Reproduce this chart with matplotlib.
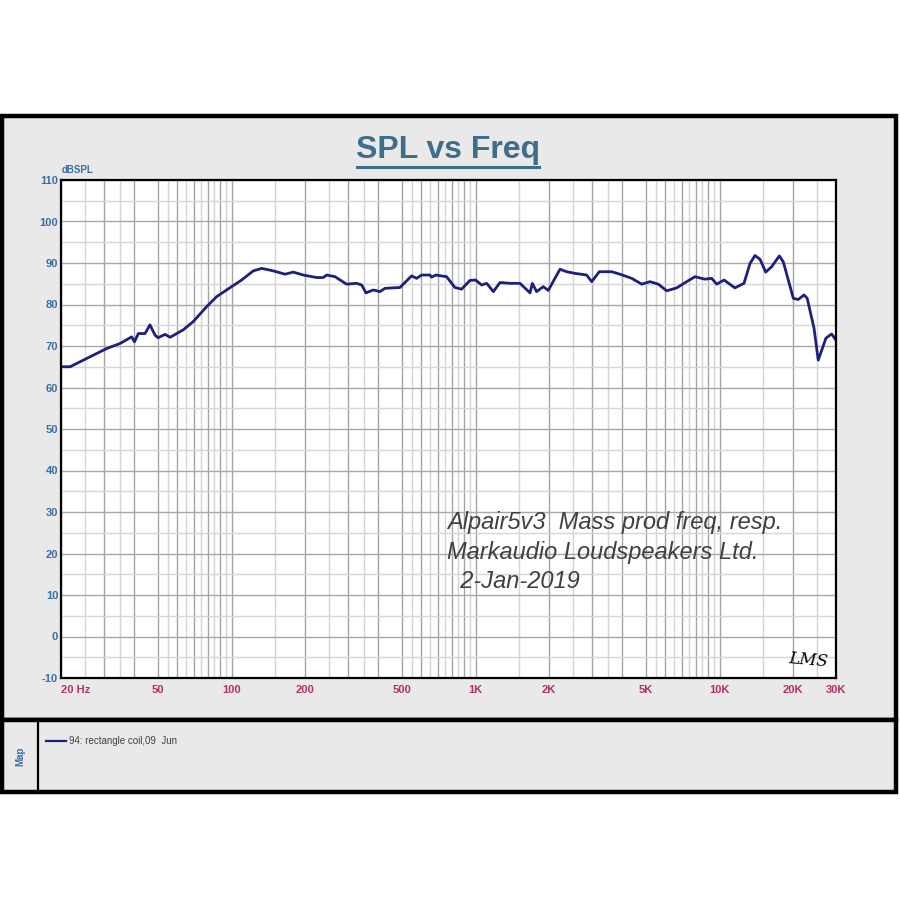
import matplotlib
matplotlib.use("Agg")
import matplotlib.pyplot as plt
from matplotlib.patches import Rectangle
from matplotlib.lines import Line2D

plt.rcParams["axes.unicode_minus"] = False

# SPL vs frequency curve
freq_hz = [20, 21.8, 26.3, 30.8, 34.9, 38.97, 40, 41.5, 44.2, 46.3, 48.6, 50, 53.4, 56,
           63.4, 69.7, 79.1, 86.9, 100, 110, 122.7, 132.9, 148.3, 165.6, 179, 196.8,
           223, 237.6, 245.5, 265.4, 296, 325.6, 341.5, 355.6, 380.9, 405.5, 425.5, 490,
           547, 573.6, 601, 650, 660, 688, 761, 823, 877, 948, 1000, 1059, 1111, 1183,
           1259, 1384, 1521, 1672, 1708, 1779, 1893, 1986, 2218, 2362, 2554, 2853, 2991,
           3214, 3612, 3908, 4366, 4798, 5188, 5610, 6069, 6670, 7330, 7928, 8711, 9283,
           9732, 10430, 11560, 12590, 13330, 13970, 14650, 15450, 16340, 17570, 18240,
           20050, 21000, 22180, 22860, 24380, 25370, 27290, 28790, 30000]
spl_db = [65.0, 65.0, 67.4, 69.4, 70.6, 72.2, 71.0, 73.0, 73.0, 75.1, 72.6, 72.0, 72.8, 72.1,
          73.9, 75.9, 79.5, 81.9, 84.3, 85.9, 88.1, 88.7, 88.1, 87.3, 87.8, 87.1,
          86.5, 86.5, 87.1, 86.7, 84.9, 85.1, 84.7, 82.8, 83.5, 83.1, 83.9, 84.1,
          86.9, 86.3, 87.1, 87.1, 86.6, 87.1, 86.7, 84.1, 83.7, 85.8, 85.9, 84.7, 85.1, 83.1,
          85.3, 85.1, 85.1, 82.8, 85.1, 83.1, 84.3, 83.4, 88.5, 87.9, 87.5, 87.1, 85.5,
          87.9, 87.9, 87.3, 86.3, 84.9, 85.5, 84.9, 83.3, 84.0, 85.5, 86.7, 86.1, 86.3,
          84.9, 85.9, 84.0, 85.1, 89.9, 91.8, 90.9, 87.8, 89.1, 91.7, 90.3,
          81.5, 81.2, 82.3, 81.5, 74.3, 66.6, 71.9, 72.9, 71.4]

x_tick_vals = [20, 50, 100, 200, 500, 1000, 2000, 5000, 10000, 20000, 30000]
x_tick_labels = ["20 Hz", "50", "100", "200", "500", "1K", "2K", "5K", "10K", "20K", "30K"]
y_ticks = list(range(-10, 111, 10))

legend_label = "94: rectangle coil,09  Jun"
note_lines = ["Alpair5v3  Mass prod freq, resp.",
              "Markaudio Loudspeakers Ltd.",
              "  2-Jan-2019"]

SANS = ["Liberation Sans", "DejaVu Sans"]
W = H = 900


def fx(x):
    return x / W


def fy(y):
    return 1 - y / H


fig = plt.figure(figsize=(9, 9), dpi=100)
fig.patch.set_facecolor("white")

# panels (behind the axes)
panel_bg = "#e9e9e9"
fig.patches.append(Rectangle((fx(2), fy(720)), fx(894), (720 - 116) / H,
                             transform=fig.transFigure, facecolor=panel_bg,
                             edgecolor="black", linewidth=3.2, zorder=-2))
fig.patches.append(Rectangle((fx(2), fy(792)), fx(894), (792 - 720) / H,
                             transform=fig.transFigure, facecolor=panel_bg,
                             edgecolor="black", linewidth=3.2, zorder=-2))
fig.lines.append(Line2D([fx(37.5), fx(37.5)], [fy(720), fy(792)],
                        transform=fig.transFigure, color="black", linewidth=1.6))

ax = fig.add_axes([fx(61), fy(678), 775 / W, 498 / H])
ax.set_facecolor("white")
ax.set_xscale("log")
ax.set_xlim(20, 30000)
ax.set_ylim(-10, 110)

# grid
for dec in [10, 100, 1000, 10000]:
    for m in range(1, 10):
        f = m * dec
        if 20 <= f <= 30000:
            ax.axvline(f, color="#a4a4a4", linewidth=1.0, zorder=1)
    for m in [1.5, 2.5, 3.5, 5.5, 6.5, 7.5, 8.5, 9.5]:
        f = m * dec
        if 20 < f < 30000:
            ax.axvline(f, color="#d4d4d4", linewidth=1.0, zorder=1)
for v in range(-10, 111, 5):
    ax.axhline(v, color="#a8a8a8" if v % 10 == 0 else "#d6d6d6", linewidth=1.0, zorder=1)

ax.plot(freq_hz, spl_db, color="#1f1f7c", linewidth=2.0, zorder=3,
        solid_joinstyle="round")

for s in ax.spines.values():
    s.set_linewidth(1.6)
    s.set_color("black")
    s.set_zorder(4)

ax.set_xticks(x_tick_vals)
ax.set_xticklabels(x_tick_labels)
ax.xaxis.set_minor_locator(matplotlib.ticker.NullLocator())
ax.set_yticks(y_ticks)
ax.tick_params(axis="x", length=0, pad=5, labelsize=8, labelcolor="#b5305e")
ax.tick_params(axis="y", length=0, pad=2, labelsize=8, labelcolor="#3a6ea5")
for lab in ax.get_xticklabels() + ax.get_yticklabels():
    lab.set_fontweight("bold")
    lab.set_family(SANS)
ax.get_xticklabels()[0].set_ha("left")

# title with underline
fig.text(fx(448), fy(150), "SPL vs Freq", ha="center", va="center", fontsize=23,
         fontweight="bold", color="#3f6e8a", family=SANS)
fig.lines.append(Line2D([fx(357), fx(539)], [fy(167), fy(167)],
                        transform=fig.transFigure, color="#3f6e8a", linewidth=2.2))

fig.text(fx(62), fy(170), "dBSPL", ha="left", va="center", fontsize=7,
         fontweight="bold", color="#3a6ea5", family=SANS)

# note text inside plot
for i, line in enumerate(note_lines):
    fig.text(fx(447), fy(523 + 29 * i), line, ha="left", va="center", fontsize=17,
             fontstyle="italic", color="#404040", family=SANS)

fig.text(fx(808), fy(660), "LMS", ha="center", va="center", fontsize=12,
         fontstyle="italic", color="black", family=["DejaVu Serif"], rotation=-5)

# map panel
fig.text(fx(20), fy(756), "Map", ha="center", va="center", fontsize=7, rotation=90,
         fontweight="bold", color="#3a6ea5", family=SANS)
fig.lines.append(Line2D([fx(46), fx(66)], [fy(741), fy(741)],
                        transform=fig.transFigure, color="#1f1f7c", linewidth=1.6))
fig.text(fx(69), fy(741), legend_label, ha="left", va="center", fontsize=7,
         color="#404040", family=SANS)

fig.savefig("out.png", dpi=100)
